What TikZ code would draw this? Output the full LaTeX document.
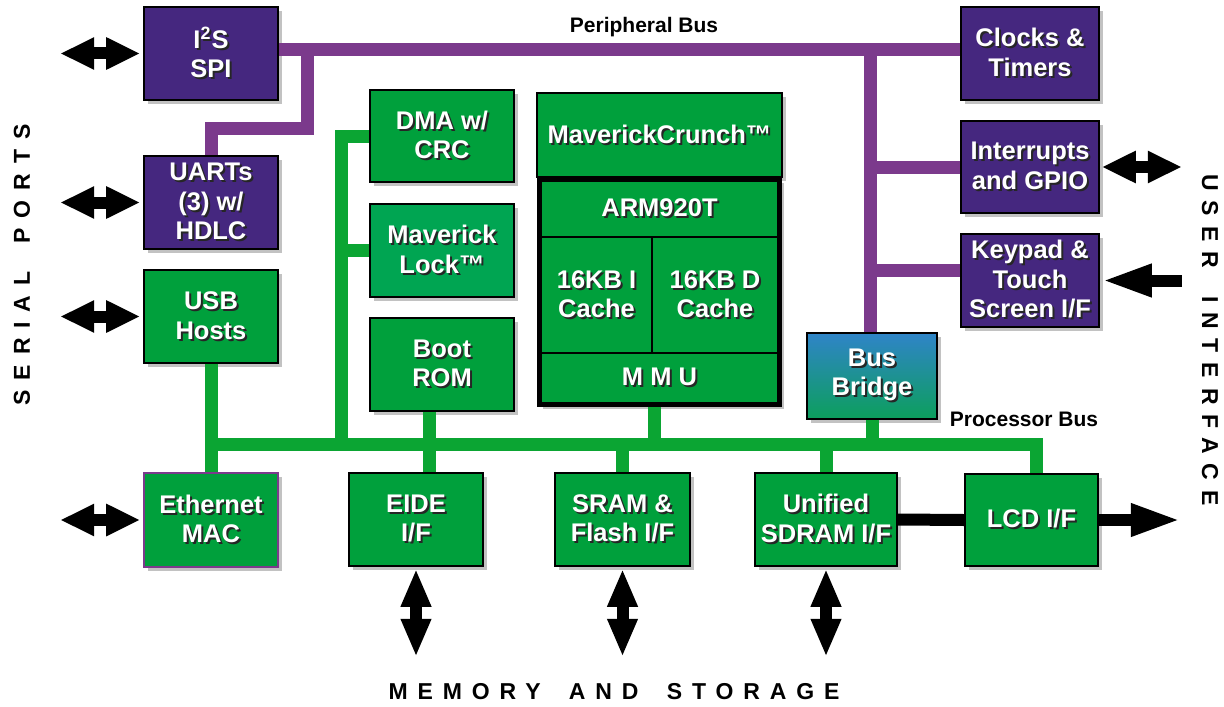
\documentclass[tikz,border=0pt]{standalone}
\usepackage{fontspec}
\setmainfont{Liberation Sans}
\newfontfamily\spacedfont{Liberation Sans}[LetterSpace=43]
\usetikzlibrary{arrows.meta}
\usetikzlibrary{shadows}
\usetikzlibrary{positioning}

\definecolor{boxpurple}{HTML}{45277F}
\definecolor{buspurple}{HTML}{7B3A8C}
\definecolor{boxgreen}{HTML}{00A03C}
\definecolor{lockgreen}{HTML}{00A552}
\definecolor{busgreen}{HTML}{0BA533}
\definecolor{bridgetop}{HTML}{2F84C8}
\definecolor{bridgebot}{HTML}{0C9F5C}
\definecolor{shadowgray}{HTML}{C2C2C2}

% white box text with a dark drop shadow
\newcommand{\sh}[1]{\leavevmode\rlap{\kern1pt\raisebox{-1pt}{\color{black!85}#1}}#1}

\tikzset{
    blk/.style={draw=black, line width=0.8pt, text=white, align=center, inner sep=0pt,
        font={\fontsize{12.75pt}{14.75pt}\selectfont\bfseries},
        drop shadow={shadow xshift=2pt, shadow yshift=-2pt, fill=shadowgray, opacity=1}},
    pbox/.style={blk, fill=boxpurple},
    gbox/.style={blk, fill=boxgreen},
    cell/.style={draw=black, line width=0.6pt, text=white, align=center, inner sep=0pt,
        font={\fontsize{12.75pt}{14.75pt}\selectfont\bfseries}},
    pbus/.style={line width=6.5pt, draw=buspurple},
    gbus/.style={line width=6.5pt, draw=busgreen},
    dbl/.style={line width=6pt, {Triangle[length=17pt,width=15pt]}-{Triangle[length=17pt,width=15pt]}},
    vdbl/.style={line width=6pt, {Triangle[length=19pt,width=14pt]}-{Triangle[length=19pt,width=14pt]}},
    sgl/.style={line width=6pt, -{Triangle[length=25pt,width=15pt]}},
    bustxt/.style={font={\fontsize{10.5pt}{12pt}\selectfont\bfseries}},
    sidetxt/.style={font={\spacedfont\fontsize{11.5pt}{12pt}\selectfont\bfseries}},
}

\begin{document}
\begin{tikzpicture}[x=0.5pt, y=-0.5pt]
    \useasboundingbox (0,0) rectangle (1224,706);

    % peripheral side
    \node[pbox, minimum width=67pt, minimum height=46.5pt] (i2s) at (211,53.5) {\sh{I\textsuperscript{2}S}\\\sh{SPI}};
    \node[pbox, minimum width=67pt, minimum height=46.5pt] (uart) at (211,202.5) {\sh{UARTs}\\\sh{(3) w/}\\\sh{HDLC}};
    \node[gbox, minimum width=67pt, minimum height=46.5pt] (usb) at (211,316.5) {\sh{USB}\\\sh{Hosts}};
    \node[gbox, draw=buspurple, minimum width=67pt, minimum height=47pt] (eth) at (211,520) {\sh{Ethernet}\\\sh{MAC}};

    \node[gbox, minimum width=72pt, minimum height=46pt] (dma) at (442,136) {\sh{DMA w/}\\\sh{CRC}};
    \node[blk, fill=lockgreen, minimum width=72pt, minimum height=46.5pt] (lock) at (442,250.5) {\sh{Maverick}\\\sh{Lock™}};
    \node[gbox, minimum width=72pt, minimum height=46.5pt] (boot) at (442,364.5) {\sh{Boot}\\\sh{ROM}};

    % processor core
    \node[gbox, minimum width=122.5pt, minimum height=42pt] (crunch) at (659.5,135) {\sh{MaverickCrunch™}};
    \node[blk, fill=boxgreen, line width=2pt, minimum width=120.5pt, minimum height=113pt] (armbox) at (659.5,292) {};
    \node[cell, minimum width=118.5pt, minimum height=28pt] (arm) at (659.5,209) {\sh{ARM920T}};
    \node[cell, minimum width=55.5pt, minimum height=58pt] (icache) at (596.5,295) {\sh{16KB I}\\\sh{Cache}};
    \node[cell, minimum width=63pt, minimum height=58pt] (dcache) at (715,295) {\sh{16KB D}\\\sh{Cache}};
    \node[cell, minimum width=118.5pt, minimum height=25pt] (mmu) at (659.5,378) {\sh{M M U}};

    \node[blk, top color=bridgetop, bottom color=bridgebot, minimum width=65pt, minimum height=43pt] (bridge) at (872,376) {\sh{Bus}\\\sh{Bridge}};

    \node[pbox, minimum width=69pt, minimum height=46.5pt] (clk) at (1030,53.5) {\sh{Clocks \&}\\\sh{Timers}};
    \node[pbox, minimum width=69pt, minimum height=46pt] (irq) at (1030,167) {\sh{Interrupts}\\\sh{and GPIO}};
    \node[pbox, minimum width=69pt, minimum height=46.5pt] (key) at (1030,280.5) {\sh{Keypad \&}\\\sh{Touch}\\\sh{Screen I/F}};

    % memory side
    \node[gbox, minimum width=67pt, minimum height=46.5pt] (eide) at (416,519.5) {\sh{EIDE}\\\sh{I/F}};
    \node[gbox, minimum width=67.5pt, minimum height=46.5pt] (sram) at (622.5,519.5) {\sh{SRAM \&}\\\sh{Flash I/F}};
    \node[gbox, minimum width=71pt, minimum height=46.5pt] (sdram) at (826,519.5) {\sh{Unified}\\\sh{SDRAM I/F}};
    \node[gbox, minimum width=66.5pt, minimum height=46pt] (lcd) at (1031.5,520) {\sh{LCD I/F}};

    % peripheral bus
    \coordinate (pbus) at (0,50);
    \coordinate (utap) at (307,50);
    \coordinate (ubend) at (307,128);
    \coordinate (rtap) at (870,50);
    \coordinate (keytap) at ([yshift=5pt]key.west);
    \draw[pbus] (i2s.east |- pbus) -- (clk.west |- pbus);
    \draw[pbus] (uart.north) |- (ubend) -- (utap);
    \draw[pbus] (rtap) -- (rtap |- bridge.north);
    \draw[pbus] (rtap |- irq.west) -- (irq.west);
    \draw[pbus] (keytap -| rtap) -- (keytap);

    % processor bus
    \coordinate (gbl) at (211,444);
    \coordinate (gbr) at (1036,444);
    \coordinate (dmax) at (341,444);
    \coordinate (eidex) at (429,444);
    \coordinate (armx) at (654,444);
    \draw[gbus] (usb.south) -- (eth.north);
    \draw[gbus] (gbl) -- (gbr) -- (gbr |- lcd.north);
    \draw[gbus] (dma.west) -| (dmax);
    \draw[gbus] (lock.west) -- (lock.west -| dmax);
    \draw[gbus] (boot.south -| eidex) -- (eide.north -| eidex);
    \draw[gbus] (armbox.south -| armx) -- (armx);
    \draw[gbus] (sram.north) -- (sram.north |- gbl);
    \draw[gbus] (sdram.north) -- (sdram.north |- gbl);
    \draw[gbus] (bridge.south) -- (bridge.south |- gbl);

    % outside connections
    \draw[dbl] ([xshift=-41.5pt]i2s.west) -- ([xshift=-1.5pt]i2s.west);
    \draw[dbl] ([xshift=-41.5pt]uart.west) -- ([xshift=-1.5pt]uart.west);
    \draw[dbl] ([xshift=-41.5pt]usb.west) -- ([xshift=-1.5pt]usb.west);
    \draw[dbl] ([xshift=-41.5pt]eth.west) -- ([xshift=-1.5pt]eth.west);
    \draw[dbl] ([xshift=1pt]irq.east) -- ([xshift=41pt]irq.east);
    \draw[sgl] ([xshift=41pt]key.east) -- ([xshift=1pt]key.east);
    \draw[line width=6pt] (sdram.east) -- (lcd.west);
    \draw[sgl] (lcd.east) -- ([xshift=41pt]lcd.east);
    \draw[vdbl] ([yshift=-1pt]eide.south) -- ([yshift=-45pt]eide.south);
    \draw[vdbl] ([yshift=-1pt]sram.south) -- ([yshift=-45pt]sram.south);
    \draw[vdbl] ([yshift=-1pt]sdram.south) -- ([yshift=-45pt]sdram.south);

    % labels
    \node[bustxt] (pbuslbl) at (644,27) {Peripheral Bus};
    \node[bustxt] (cbuslbl) at (1024,419) {Processor Bus};
    \node[sidetxt, rotate=90] (serial) at (22,265) {SERIAL\hspace{6pt} PORTS};
    \node[sidetxt, rotate=-90] (user) at (1210,340) {USER\hspace{6pt} INTERFACE};
    \node[sidetxt] (mem) at (614,692) {MEMORY\hspace{6pt} AND\hspace{6pt} STORAGE};
\end{tikzpicture}
\end{document}
